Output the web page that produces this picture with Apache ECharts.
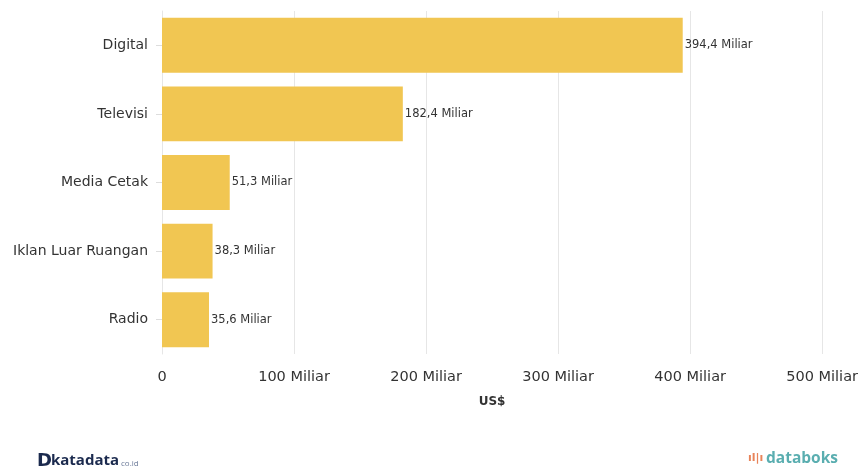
<!DOCTYPE html>
<html><head><meta charset="utf-8">
<script src="https://cdn.jsdelivr.net/npm/echarts@6/dist/echarts.min.js"></script>
<style>html,body{margin:0;padding:0;background:#fff;}#c{width:861px;height:469px;}</style>
</head><body><div id="c"></div>
<script>
const categories = ["Digital", "Televisi", "Media Cetak", "Iklan Luar Ruangan", "Radio"];
const values = [394.4, 182.4, 51.3, 38.3, 35.6];
const xTicks = [0, 100, 200, 300, 400, 500];
const xAxisName = "US$";

const chart = echarts.init(document.getElementById('c'));
const font = "'DejaVu Sans', Verdana, sans-serif";
chart.setOption({
  animation: false,
  grid: {left: 162, right: 38, top: 11, bottom: 115, containLabel: false},
  xAxis: {
    type: 'value', min: 0, max: 500, interval: 100,
    name: xAxisName, nameLocation: 'middle', nameGap: 42,
    nameTextStyle: {fontFamily: font, fontSize: 12, fontWeight: 'bold', color: '#333'},
    axisLine: {show: false}, axisTick: {show: false},
    axisLabel: {fontFamily: font, fontSize: 14.5, color: '#333', margin: 16,
      formatter: v => v === 0 ? '0' : v + ' Miliar'},
    splitLine: {show: true, lineStyle: {color: '#e6e6e6', width: 1}}
  },
  yAxis: {
    type: 'category', data: categories, inverse: true,
    axisLine: {show: true, lineStyle: {color: '#e6e6e6'}},
    axisTick: {show: true, length: 6, alignWithLabel: true, lineStyle: {color: '#ddd'}},
    axisLabel: {fontFamily: font, fontSize: 14, color: '#333', margin: 14}
  },
  series: [{
    type: 'bar', data: values, barCategoryGap: '20%',
    itemStyle: {color: '#F1C652'},
    label: {show: true, position: 'right', distance: 2, fontFamily: font, fontSize: 11.5, color: '#333',
      formatter: p => String(p.value).replace('.', ',') + ' Miliar'}
  }],
  graphic: [
    {type: 'text', left: 37, top: 452, style: {text: 'D', font: "bold 18px 'DejaVu Sans', sans-serif", fill: '#1b2a4e'}},
    {type: 'text', left: 51, top: 453, style: {text: 'katadata', font: "bold 15px 'Open Sans', sans-serif", fill: '#1b2a4e'}},
    {type: 'text', left: 121, top: 460, style: {text: 'co.id', font: "8px 'Open Sans', sans-serif", fill: '#6b7a99'}},
    {type: 'text', left: 748, top: 453, style: {text: 'ıl|ı', font: "bold 11px 'DejaVu Sans', sans-serif", fill: '#e8845a'}},
    {type: 'text', left: 766, top: 451, style: {text: 'databoks', font: "bold 15.5px 'Open Sans', sans-serif", fill: '#5aaeb0'}}
  ]
});
</script></body></html>
